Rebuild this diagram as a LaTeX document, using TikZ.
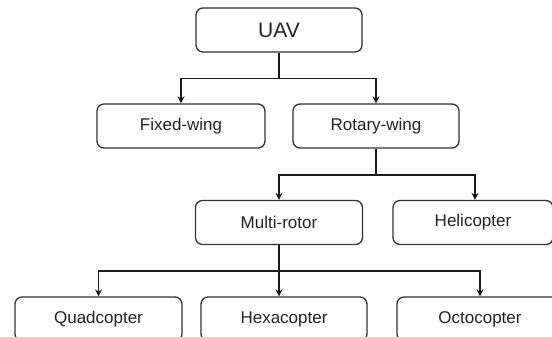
\documentclass[tikz,border=0pt]{standalone}
\usepackage{fontspec}
\setmainfont{Liberation Sans}
\usetikzlibrary{arrows.meta}
\definecolor{boxline}{HTML}{333333}
\definecolor{wire}{HTML}{1A1A1A}
\definecolor{ink}{HTML}{222222}
\tikzset{
  box/.style={draw=boxline, line width=1.3pt, rounded corners=7pt,
    minimum height=44pt, inner sep=0pt, text=ink, font=\fontsize{17}{20}\selectfont},
  link/.style={draw=wire, line width=1.7pt},
  arr/.style={link, -{Stealth[length=7pt,width=7pt]}}
}
\begin{document}
\begin{tikzpicture}[x=1pt,y=-1pt]
  \useasboundingbox (0,0) rectangle (552,337);
  % tree levels
  \node[box, minimum width=166pt, font=\fontsize{21}{24}\selectfont] (uav) at (279,30) {UAV};
  \node[box, minimum width=168pt] (fixed)  at (181,126) {Fixed-wing};
  \node[box, minimum width=166pt] (rotary) at (376,126) {Rotary-wing};
  \node[box, minimum width=167pt] (multi)  at (279,222.5) {Multi-rotor};
  \node[box, minimum width=160pt] (heli)   at (473,222.5) {Helicopter};
  \node[box, minimum width=167pt] (quad)   at (98.5,319) {Quadcopter};
  \node[box, minimum width=166pt] (hexa)   at (284,319) {Hexacopter};
  \node[box, minimum width=166pt] (octo)   at (480,319) {Octocopter};
  % UAV branches
  \draw[link] (uav.south) -- ++(0,26) coordinate (j1);
  \draw[arr] (j1) -| (fixed.north);
  \draw[arr] (j1) -| (rotary.north);
  % rotary-wing branches
  \draw[link] (rotary.south) -- ++(0,26) coordinate (j2);
  \draw[arr] (j2) -| (multi.north);
  \draw[arr] (j2) -| ([xshift=2pt]heli.north);
  % multi-rotor branches
  \draw[link] (multi.south) -- ++(0,26) coordinate (j3);
  \draw[arr] (j3) -| (quad.north);
  \draw[arr] (j3) -- (j3 |- hexa.north);
  \draw[arr] (j3) -| (octo.north);
\end{tikzpicture}
\end{document}
